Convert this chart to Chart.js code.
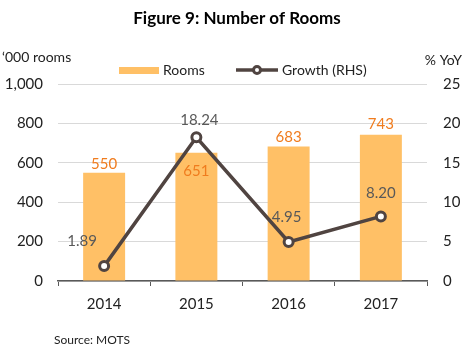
<!DOCTYPE html>
<html><head><meta charset="utf-8">
<script src="https://cdn.jsdelivr.net/npm/chart.js@4/dist/chart.umd.min.js"></script>
<style>html,body{margin:0;padding:0;background:#fff;}#wrap{width:472px;height:356px;position:relative;}</style>
</head><body><div id="wrap"><canvas id="c" width="472" height="356"></canvas></div>
<script>
const categories = ['2014', '2015', '2016', '2017'];
const rooms = [550, 651, 683, 743];
const growth = [1.89, 18.24, 4.95, 8.20];
const roomLabels = ['550', '651', '683', '743'];
const growthLabels = ['1.89', '18.24', '4.95', '8.20'];

const FONT = 'Lato, "Open Sans", sans-serif';
const BAR = '#FFC066';
const LINE = '#504441';
const ORANGE = '#F07C1E';
const GREY = '#595959';

// label offsets relative to element (style only)
const roomOff = [[0,-8],[0,18],[0,-9],[0,-10]];
const growthOff = [[-22,-25],[3,-17],[-2,-25],[0,-23]];

const deco = {
  id: 'deco',
  afterDatasetsDraw(chart) {
    const ctx = chart.ctx;
    ctx.save();
    ctx.textAlign = 'center';
    ctx.textBaseline = 'middle';
    ctx.font = '15px ' + FONT;
    const bm = chart.getDatasetMeta(1);
    bm.data.forEach((el, i) => {
      ctx.fillStyle = ORANGE;
      ctx.fillText(roomLabels[i], el.x + roomOff[i][0], el.y + roomOff[i][1]);
    });
    const lm = chart.getDatasetMeta(0);
    lm.data.forEach((el, i) => {
      ctx.fillStyle = GREY;
      ctx.fillText(growthLabels[i], el.x + growthOff[i][0], el.y + growthOff[i][1]);
    });
    ctx.restore();
  },
  afterDraw(chart) {
    const ctx = chart.ctx;
    ctx.save();
    ctx.fillStyle = '#000';
    ctx.textBaseline = 'middle';
    ctx.textAlign = 'center';
    ctx.font = 'bold 17px ' + FONT;
    ctx.fillText('Figure 9: Number of Rooms', 237, 19);
    ctx.font = '14px ' + FONT;
    ctx.fillStyle = '#222';
    ctx.textAlign = 'left';
    ctx.fillText('\u2018000 rooms', 2, 57);
    ctx.textAlign = 'right';
    ctx.fillText('% YoY', 462, 60);
    // legend
    ctx.textAlign = 'left';
    ctx.fillStyle = BAR;
    ctx.fillRect(119, 67, 40, 7);
    ctx.fillStyle = '#222';
    ctx.fillText('Rooms', 163, 70);
    ctx.strokeStyle = LINE;
    ctx.lineWidth = 3.5;
    ctx.beginPath(); ctx.moveTo(236, 70); ctx.lineTo(278, 70); ctx.stroke();
    ctx.beginPath(); ctx.arc(257, 70, 3.5, 0, Math.PI*2);
    ctx.fillStyle = '#fff'; ctx.fill(); ctx.lineWidth = 3; ctx.stroke();
    ctx.fillStyle = '#222';
    ctx.fillText('Growth (RHS)', 282, 70);
    ctx.font = '12px ' + FONT;
    ctx.fillText('Source: MOTS', 54, 340);
    ctx.restore();
  }
};

new Chart(document.getElementById('c'), {
  data: {
    labels: categories,
    datasets: [
      { type: 'line', label: 'Growth (RHS)', data: growth, yAxisID: 'y1', order: 0,
        borderColor: LINE, borderWidth: 3.5, backgroundColor: '#fff',
        pointRadius: 4.5, pointBorderWidth: 3, pointBackgroundColor: '#fff', pointBorderColor: LINE,
        tension: 0 },
      { type: 'bar', label: 'Rooms', data: rooms, yAxisID: 'y', order: 1,
        backgroundColor: BAR, categoryPercentage: 1, barPercentage: 0.455 }
    ]
  },
  options: {
    responsive: false, animation: false,
    layout: { padding: { top: 84, left: 0, right: 0, bottom: 0 } },
    plugins: { legend: { display: false }, title: { display: false }, tooltip: { enabled: false } },
    scales: {
      x: {
        offset: true,
        grid: { drawOnChartArea: false, drawTicks: true, tickLength: 5, color: GREY, offset: true },
        border: { color: GREY, width: 1.5 },
        ticks: { color: '#222', font: { family: FONT, size: 15 }, padding: 9 },
        afterFit(s) { s.height = 75; }
      },
      y: {
        position: 'left', min: 0, max: 1000,
        ticks: { stepSize: 200, color: '#222', font: { family: FONT, size: 15 }, padding: 15,
          callback: v => v.toLocaleString('en-US') },
        grid: { color: '#D9D9D9', drawTicks: false, lineWidth: 1 },
        border: { display: false },
        afterFit(s) { s.width = 58; }
      },
      y1: {
        position: 'right', min: 0, max: 25,
        ticks: { stepSize: 5, color: '#222', font: { family: FONT, size: 15 }, padding: 16 },
        grid: { drawOnChartArea: false, drawTicks: false },
        border: { display: false },
        afterFit(s) { s.width = 45; }
      }
    }
  },
  plugins: [deco]
});
</script></body></html>
